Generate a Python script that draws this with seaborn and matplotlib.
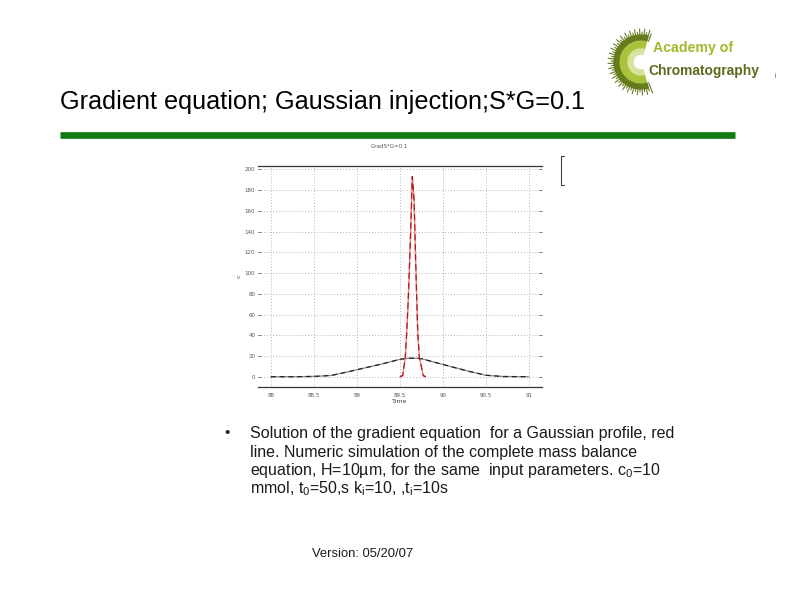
import numpy as np
import pandas as pd
import matplotlib
matplotlib.use("Agg")
import matplotlib.pyplot as plt
from matplotlib.lines import Line2D
from matplotlib.patches import Wedge
import seaborn as sns

# ---------------- data ----------------
sim_time = [88.0, 88.25, 88.5, 88.7, 88.9, 89.1, 89.3, 89.5, 89.6, 89.7,
            89.75, 89.9, 90.1, 90.3, 90.5, 90.7, 91.0]
sim_conc = [0.0, 0.0, 0.3, 1.2, 4.8, 8.7, 12.5, 16.8, 17.8, 17.8,
            17.4, 14.0, 9.6, 5.2, 1.4, 0.2, 0.0]

grad_time = [89.50, 89.531, 89.562, 89.578, 89.597, 89.624, 89.643,
             89.663, 89.678, 89.694, 89.706, 89.724, 89.771, 89.80]
grad_conc = [0.0, 1.0, 19.0, 43.0, 76.0, 140.0, 193.0,
             172.0, 124.0, 76.0, 43.0, 19.0, 1.0, 0.0]

x_ticks = [88, 88.5, 89, 89.5, 90, 90.5, 91]
x_tick_labels = ["88", "88.5", "89", "89.5", "90", "90.5", "91"]
y_ticks = [0, 20, 40, 60, 80, 100, 120, 140, 160, 180, 200]

title_text = "Gradient equation; Gaussian injection;S*G=0.1"
chart_title = "GradS*G=0.1"
bullet_lines = [
    "Solution of the gradient equation  for a Gaussian profile, red",
    "line. Numeric simulation of the complete mass balance",
    "equation, H=10\u00b5m, for the same  input parameters. c$_0$=10",
    "mmol, t$_0$=50,s k$_i$=10, ,t$_i$=10s",
]
version_text = "Version: 05/20/07"

# ---------------- style ----------------
sns.set_theme(style="white")
plt.rcParams["font.family"] = ["Liberation Sans", "DejaVu Sans"]
plt.rcParams["mathtext.fontset"] = "custom"
plt.rcParams["mathtext.rm"] = "Liberation Sans"
plt.rcParams["mathtext.default"] = "rm"

W, H = 794, 595
fig = plt.figure(figsize=(W / 100, H / 100), dpi=100, facecolor="white")


def fx(px):
    return px / W


def fy(py):
    return 1 - py / H


# slide title + green rule
fig.text(fx(60), fy(109), title_text, fontsize=18.2, color="black",
         ha="left", va="baseline")
fig.add_artist(Line2D([fx(60), fx(735)], [fy(135), fy(135)],
                      color="#117a11", linewidth=4.8, solid_capstyle="butt"))

# logo
logo_ax = fig.add_axes([fx(600), fy(100), fx(70), 75 / H])
logo_ax.set_xlim(600, 670)
logo_ax.set_ylim(100, 25)
logo_ax.set_aspect("equal")
logo_ax.axis("off")
cx, cy = 641, 62
for ang in np.arange(70, 292, 4.5):
    a = np.deg2rad(ang)
    r2 = 33 if int(ang / 4.5) % 2 == 0 else 30
    logo_ax.plot([cx + 22 * np.cos(a), cx + r2 * np.cos(a)],
                 [cy - 22 * np.sin(a), cy - r2 * np.sin(a)],
                 color="#6a7d22", linewidth=0.8)
logo_ax.add_patch(Wedge((cx, cy), 27, 75, 285, width=6, color="#5f7a18"))
logo_ax.add_patch(Wedge((cx, cy), 21, 75, 285, width=8, color="#a9c43c"))
logo_ax.add_patch(Wedge((cx, cy), 13, 75, 285, width=5, color="#d6e39c"))

fig.text(fx(653), fy(52), "Academy of", fontsize=10.2, fontweight="bold",
         color="#9dbb2c", ha="left", va="baseline",
         family=["Liberation Sans"])
fig.text(fx(648), fy(75), "Chromatography", fontsize=9.9, fontweight="bold",
         color="#5b6b1c", ha="left", va="baseline",
         family=["Liberation Sans"])
fig.add_artist(Line2D([fx(775), fx(775)], [fy(73), fy(77)],
                      color="#888888", linewidth=0.6))

# ---------------- chart ----------------
ax = fig.add_axes([fx(258), fy(387.3), fx(542 - 258), (387.3 - 165.7) / H])
sim_df = pd.DataFrame({"Time": sim_time, "c": sim_conc})
grad_df = pd.DataFrame({"Time": grad_time, "c": grad_conc})

sns.lineplot(data=sim_df, x="Time", y="c", ax=ax, color="#8a8a8a",
             linewidth=0.9, estimator=None, sort=False)
sns.lineplot(data=sim_df, x="Time", y="c", ax=ax, color="#222222",
             linewidth=0.9, estimator=None, sort=False)
ax.lines[-1].set_dashes([4, 3])
sns.lineplot(data=grad_df, x="Time", y="c", ax=ax, color="#ee8080",
             linewidth=1.0, estimator=None, sort=False)
sns.lineplot(data=grad_df, x="Time", y="c", ax=ax, color="#b01818",
             linewidth=0.9, estimator=None, sort=False)
ax.lines[-1].set_dashes([5, 3])

ax.set_xlim(87.85, 91.15)
ax.set_ylim(-10.2, 203.5)
ax.set_xticks(x_ticks)
ax.set_xticklabels(x_tick_labels)
ax.set_yticks(y_ticks)
ax.grid(True, linestyle=(0, (1, 2.5)), color="#9a9a9a", linewidth=0.6)
for side in ["left", "right"]:
    ax.spines[side].set_visible(False)
for side in ["top", "bottom"]:
    ax.spines[side].set_visible(True)
    ax.spines[side].set_color("#333333")
    ax.spines[side].set_linewidth(0.9)
ax.tick_params(axis="both", labelsize=4, colors="#555555", length=2,
               width=0.5, pad=2, direction="out")
ax.tick_params(axis="y", left=True, right=True, direction="in")
ax.tick_params(axis="x", bottom=False)
ax.set_xlabel("Time", fontsize=4.5, color="#444444", labelpad=0.5,
              family=["DejaVu Sans"])
ax.set_ylabel("c", fontsize=4.5, color="#444444", labelpad=2,
              family=["DejaVu Sans"])
for lab in ax.get_xticklabels() + ax.get_yticklabels():
    lab.set_family(["DejaVu Sans"])

fig.text(fx(389), fy(147), chart_title, fontsize=4, color="#555555",
         ha="center", va="center", family=["DejaVu Sans"])

# partial legend bracket
fig.add_artist(Line2D([fx(564), fx(560.5), fx(560.5), fx(564)],
                      [fy(156), fy(156), fy(185), fy(185)],
                      color="#444444", linewidth=0.8))

# ---------------- bullet text ----------------
fig.text(fx(224), fy(437), "\u2022", fontsize=11, color="#222222",
         ha="left", va="baseline")
baselines = [438, 456.5, 475, 493]
for txt, by in zip(bullet_lines, baselines):
    fig.text(fx(250), fy(by), txt, fontsize=11.55, color="#1a1a1a",
             ha="left", va="baseline")

fig.text(fx(312), fy(557), version_text, fontsize=9.4, color="#1a1a1a",
         ha="left", va="baseline")

fig.savefig("out.png", dpi=100, facecolor="white")
